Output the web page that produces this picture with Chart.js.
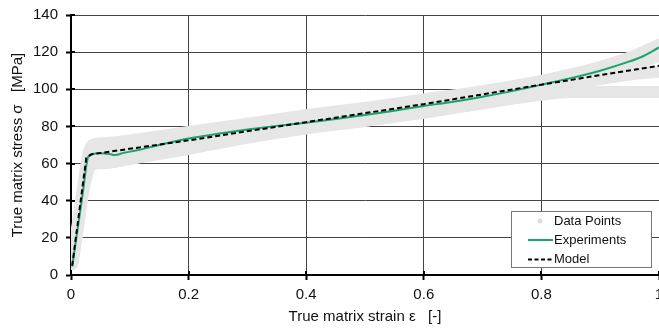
<!DOCTYPE html>
<html>
<head>
<meta charset="utf-8">
<script src="https://cdn.jsdelivr.net/npm/chart.js@4"></script>
<style>
  html, body { margin: 0; padding: 0; background: #fff; }
  #wrap { width: 659px; height: 329px; }
</style>
</head>
<body>
<div id="wrap"><canvas id="strainChart" width="659" height="329"></canvas></div>
<script>
// Tick labels
const xTicks = [0, 0.2, 0.4, 0.6, 0.8, 1];
const yTicks = [0, 20, 40, 60, 80, 100, 120, 140];

// Grey "Data Points" bands (several test curves)
const bandStrain = [0.002, 0.01, 0.02, 0.03, 0.04, 0.06, 0.1, 0.2, 0.3, 0.4, 0.5, 0.6, 0.7, 0.8, 0.85, 0.9, 0.95, 1.0];
const band1 = [6, 24, 46, 66, 70.5, 71, 72.5, 77, 81.5, 86, 90, 94.5, 99, 104.5, 108, 112, 117, 124];
const band2 = [6, 23, 45, 62, 65, 65.5, 67.5, 73.5, 78, 82.5, 86.5, 91, 96, 101.5, 104.5, 108, 112.5, 118];
const band3 = [6, 22, 44, 57, 60, 60.5, 62.5, 68, 74, 79, 83, 87.5, 92.5, 98, 102.5, 105.5, 108, 109.5];
const band4 = [6, 22, 44, 57, 60, 60.5, 62.5, 68, 74, 79, 83, 87.5, 92.5, 97, 98.5, 98.5, 98.5, 98.5];

// Experiments (green)
const expStrain = [0.002, 0.01, 0.02, 0.029, 0.035, 0.05, 0.065, 0.075, 0.09, 0.11, 0.15, 0.2, 0.25, 0.3, 0.35, 0.4, 0.45, 0.5, 0.55, 0.6, 0.65, 0.7, 0.75, 0.8, 0.85, 0.9, 0.95, 0.97, 1.0];
const expStress = [4.5, 22, 44, 63.5, 65, 65.5, 65.2, 64.6, 65.8, 67, 70, 73.5, 76, 78.3, 80.3, 82, 84, 86.2, 88.5, 91, 93.3, 96, 99, 102.5, 106, 110, 115, 117.4, 122.5];

// Model (dashed)
const modelStrain = [0.002, 0.026, 0.035, 0.2, 0.4, 0.6, 0.8, 1.0];
const modelStress = [5, 63, 65, 72.5, 82.3, 92, 102.5, 112.7];

const toXY = (xs, ys) => xs.map((x, i) => ({ x: x, y: ys[i] }));

const FONT = "'Liberation Sans', Arial, sans-serif";
const BAND = '#e6e6e6';
const GREEN = '#1ba36d';

function bandSet(values) {
    return {
        label: 'Data Points',
        data: toXY(bandStrain, values),
        borderColor: BAND,
        backgroundColor: BAND,
        borderWidth: 12,
        borderCapStyle: 'round',
        borderJoinStyle: 'round',
        pointRadius: 0,
        cubicInterpolationMode: 'monotone',
        order: 3
    };
}

// Legend box inside the plot, bottom right
const boxLegend = {
    id: 'boxLegend',
    afterDraw(chart) {
        const { ctx, chartArea } = chart;
        const w = 141, h = 57;
        const x0 = chartArea.right - 7 - w;
        const y0 = chartArea.bottom - 7 - h;
        ctx.save();
        ctx.fillStyle = '#fff';
        ctx.fillRect(x0, y0, w, h);
        ctx.strokeStyle = '#777';
        ctx.lineWidth = 1;
        ctx.strokeRect(x0 + 0.5, y0 + 0.5, w - 1, h - 1);

        const rows = [y0 + 10, y0 + 29, y0 + 48.5];
        // Data Points symbol
        ctx.fillStyle = '#dedede';
        ctx.beginPath();
        ctx.arc(x0 + 29, rows[0], 2.5, 0, Math.PI * 2);
        ctx.fill();
        // Experiments symbol
        ctx.strokeStyle = GREEN;
        ctx.lineWidth = 2;
        ctx.beginPath();
        ctx.moveTo(x0 + 17, rows[1]);
        ctx.lineTo(x0 + 42, rows[1]);
        ctx.stroke();
        // Model symbol
        ctx.strokeStyle = '#000';
        ctx.setLineDash([4, 2.5]);
        ctx.beginPath();
        ctx.moveTo(x0 + 17, rows[2]);
        ctx.lineTo(x0 + 41, rows[2]);
        ctx.stroke();
        ctx.setLineDash([]);

        ctx.fillStyle = '#111';
        ctx.font = '13px ' + FONT;
        ctx.textBaseline = 'middle';
        ctx.fillText('Data Points', x0 + 43, rows[0]);
        ctx.fillText('Experiments', x0 + 43, rows[1]);
        ctx.fillText('Model', x0 + 43, rows[2]);
        ctx.restore();
    }
};

// Tick marks that cross the axis lines into the plot
const innerTicks = {
    id: 'innerTicks',
    beforeDatasetsDraw(chart) {
        const { ctx, chartArea, scales } = chart;
        ctx.save();
        ctx.strokeStyle = '#000';
        ctx.lineWidth = 2;
        ctx.beginPath();
        yTicks.forEach(v => {
            const py = Math.round(scales.y.getPixelForValue(v));
            ctx.moveTo(chartArea.left, py);
            ctx.lineTo(chartArea.left + 4, py);
        });
        xTicks.forEach(v => {
            const px = Math.round(scales.x.getPixelForValue(v));
            ctx.moveTo(px, chartArea.bottom);
            ctx.lineTo(px, chartArea.bottom - 4);
        });
        ctx.stroke();
        ctx.restore();
    }
};

const ctx = document.getElementById('strainChart').getContext('2d');
const strainChart = new Chart(ctx, {
    type: 'line',
    data: {
        datasets: [
            {
                label: 'Model',
                data: toXY(modelStrain, modelStress),
                borderColor: '#000',
                borderWidth: 2,
                borderDash: [5, 3],
                pointRadius: 0,
                tension: 0,
                order: 0
            },
            {
                label: 'Experiments',
                data: toXY(expStrain, expStress),
                borderColor: GREEN,
                borderWidth: 2,
                pointRadius: 0,
                cubicInterpolationMode: 'monotone',
                order: 1
            },
            bandSet(band1),
            bandSet(band2),
            bandSet(band3),
            bandSet(band4)
        ]
    },
    options: {
        responsive: false,
        animation: false,
        devicePixelRatio: 1,
        layout: { padding: { top: 15, right: 0, left: 0, bottom: 0 } },
        plugins: {
            legend: { display: false },
            tooltip: { enabled: false }
        },
        scales: {
            x: {
                type: 'linear',
                min: 0,
                max: 1,
                afterBuildTicks: scale => { scale.ticks = xTicks.map(v => ({ value: v })); },
                afterFit: scale => { scale.height = 54; scale.paddingRight = 0; scale.paddingLeft = 0; },
                ticks: {
                    color: '#111',
                    padding: 6,
                    maxRotation: 0,
                    font: { family: FONT, size: 15 },
                    callback: v => String(v)
                },
                grid: { color: '#444', lineWidth: 1, tickColor: '#000', tickLength: 5, tickWidth: 2 },
                border: { color: '#000', width: 2 },
                title: {
                    display: true,
                    text: 'True matrix strain \u03b5   [-]',
                    color: '#111',
                    font: { family: FONT, size: 15 },
                    padding: { top: 4, bottom: 3 }
                }
            },
            y: {
                type: 'linear',
                min: 0,
                max: 140,
                afterBuildTicks: scale => { scale.ticks = yTicks.map(v => ({ value: v })); },
                afterFit: scale => { scale.width = 71; scale.paddingTop = 0; scale.paddingBottom = 0; },
                ticks: {
                    color: '#111',
                    padding: 8,
                    font: { family: FONT, size: 15 },
                    callback: v => String(v)
                },
                grid: { color: '#444', lineWidth: 1, tickColor: '#000', tickLength: 5, tickWidth: 2 },
                border: { color: '#000', width: 2 },
                title: {
                    display: true,
                    text: 'True matrix stress \u03c3   [MPa]',
                    color: '#111',
                    font: { family: FONT, size: 15 },
                    padding: { top: 9, bottom: 0 }
                }
            }
        }
    },
    plugins: [innerTicks, boxLegend]
});
</script>
</body>
</html>
